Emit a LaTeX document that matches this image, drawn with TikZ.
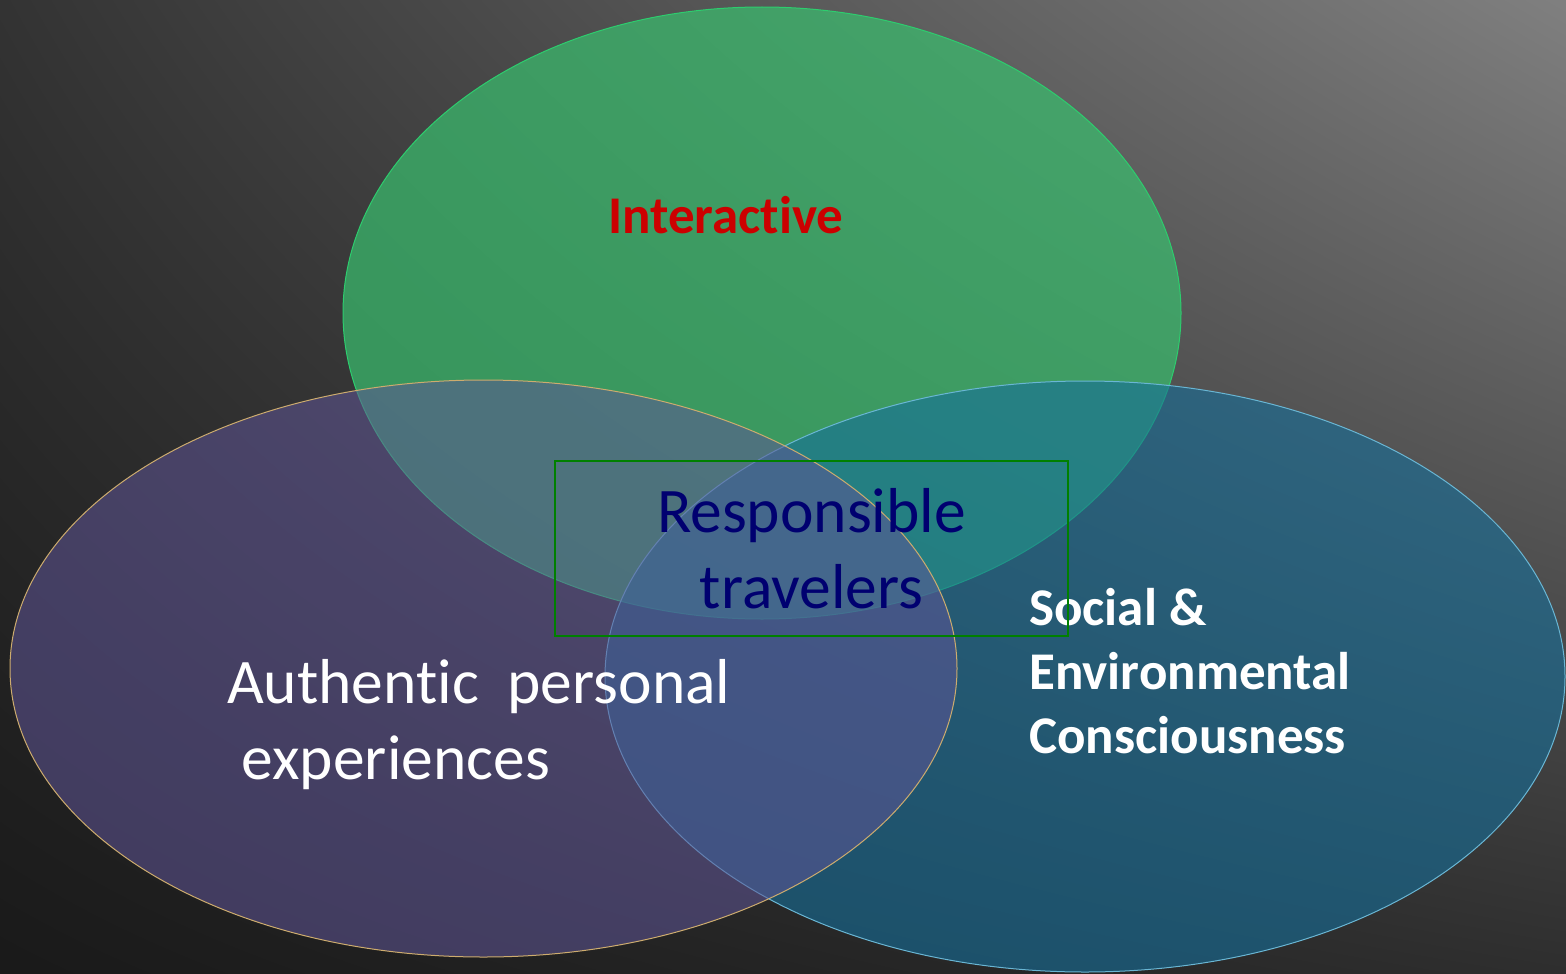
\documentclass[tikz,border=0pt]{standalone}
\usepackage{fontspec}
\setmainfont{Carlito}[Ligatures=NoCommon]
\usetikzlibrary{shadings}

\definecolor{ringG}{RGB}{45,205,110}
\definecolor{fillG}{RGB}{57,191,110}
\definecolor{ringP}{RGB}{205,172,110}
\definecolor{fillP}{RGB}{95,85,150}
\definecolor{ringT}{RGB}{105,182,212}
\definecolor{fillT}{RGB}{22,110,153}
\definecolor{boxG}{RGB}{0,128,0}
\definecolor{navy}{RGB}{0,0,112}
\definecolor{redT}{RGB}{204,0,0}

\begin{document}
\begin{tikzpicture}[x=1pt,y=-1pt,
ring/.style={line width=1pt,fill opacity=#1},ring/.default=0.7,
big/.style={font=\fontsize{63.5}{75.6}\selectfont},
heavy/.style={font=\fontsize{53}{64}\selectfont\bfseries}]

\useasboundingbox (0,0) rectangle (1566,974);
\shade[upper left=black!80,upper right=black!50,
lower left=black!90,lower right=black!82] (0,0) rectangle (1566,974);

% the three sets
\filldraw[ring,draw=ringG,fill=fillG] (762,313) ellipse [x radius=419pt,y radius=306pt];
\filldraw[ring=0.6,draw=ringT,fill=fillT] (1085,676.5) ellipse [x radius=480pt,y radius=295.5pt];
\filldraw[ring=0.55,draw=ringP,fill=fillP] (483.5,668.5) ellipse [x radius=473.5pt,y radius=288.5pt];

\node[heavy,text=redT,inner sep=0,anchor=base west] (inter) at (608,233) {Interactive};

% anchor base is the last line for these
\node[big,text=white,inner sep=0,anchor=base west,align=left] (auth) at (227,779)
{Authentic~~personal\\\hspace*{.23em}experiences};

\node[heavy,text=white,inner sep=0,anchor=base west,align=left] (soc) at (1029,753)
{Social \&\\Environmental\\Consciousness};

% centre box
\node[big,text=navy,draw=boxG,line width=1.5pt,align=center,
minimum width=513pt,minimum height=175pt] (resp) at (811.5,548.5)
{Responsible\\travelers};

\end{tikzpicture}
\end{document}
